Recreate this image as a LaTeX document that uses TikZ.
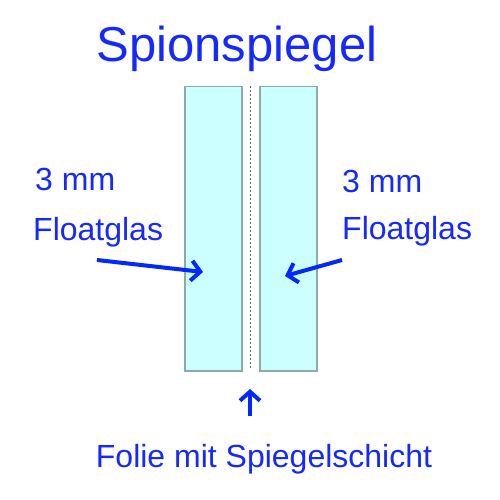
\documentclass[tikz,border=0pt]{standalone}
\usepackage{fontspec}
\setmainfont{Liberation Sans}
\usetikzlibrary{arrows.meta}
\definecolor{txtblue}{RGB}{20,40,255}
\definecolor{arrblue}{RGB}{0,40,255}
\definecolor{glassfill}{RGB}{204,255,255}
\definecolor{glassedge}{RGB}{140,170,170}
\tikzset{
  lbl/.style={inner sep=0pt, text=txtblue, font=\fontsize{32}{32}\selectfont},
  pane/.style={draw=glassedge, fill=glassfill, line width=1.5pt},
  pointer/.style={draw=arrblue, line width=4pt, -{Straight Barb[length=9pt,width=20pt,line width=4pt]}}
}
\begin{document}
\begin{tikzpicture}[x=1pt,y=-1pt]
\useasboundingbox (0,0) rectangle (500,500);
\node[lbl, anchor=base, font=\fontsize{49}{49}\selectfont] (title) at (237,62) {Spionspiegel};
\node[pane, minimum width=57pt, minimum height=284pt, anchor=north west] (left) at (184,86) {};
\node[pane, minimum width=57pt, minimum height=284pt, anchor=north west] (right) at (259,86) {};
\coordinate (ftop) at (250,86);
\coordinate (fbot) at (250,370);
\draw[gray!80!black, dashed, dash pattern=on 2pt off 2pt, line width=1pt] (ftop) -- (fbot);
\node[lbl, anchor=base west] (l3) at (35,190) {3 mm};
\node[lbl, anchor=base west] (lf) at (33,240) {Floatglas};
\node[lbl, anchor=base west] (r3) at (342,192) {3 mm};
\node[lbl, anchor=base west] (rf) at (342,239) {Floatglas};
\node[lbl, anchor=base] (folie) at (264,467) {Folie mit Spiegelschicht};
\coordinate (la) at (97,260);
\coordinate (lb) at (203,272);
\coordinate (ra) at (342,260);
\coordinate (rb) at (285,276);
\coordinate (ba) at (250,416);
\coordinate (bb) at (250,389);
\draw[pointer] (la) -- (lb);
\draw[pointer] (ra) -- (rb);
\draw[pointer] (ba) -- (bb);
\end{tikzpicture}
\end{document}
